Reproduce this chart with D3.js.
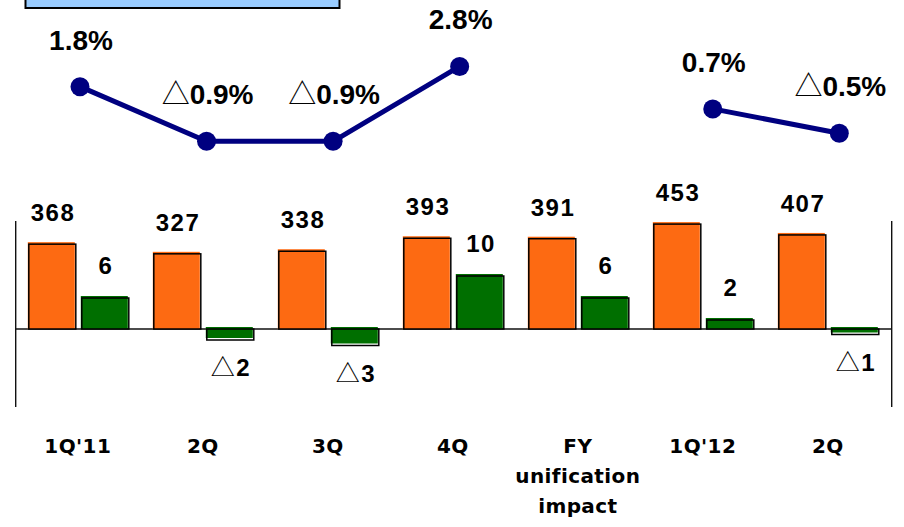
<!DOCTYPE html>
<html>
<head>
<meta charset="utf-8">
<script src="https://cdn.jsdelivr.net/npm/d3@7"></script>
<style>
  html, body { margin: 0; padding: 0; background: #fff; }
  svg { display: block; }
</style>
</head>
<body>
<script>
// Quarterly figures: totals (orange), changes (green) and ratio (navy line)
const categories = ["1Q'11", "2Q'11", "3Q'11", "4Q'11", "FY unification impact", "1Q'12", "2Q'12"];
const tickLabels = [["1Q'11"], ["2Q"], ["3Q"], ["4Q"], ["FY", "unification", "impact"], ["1Q'12"], ["2Q"]];
const totalValues = [368, 327, 338, 393, 391, 453, 407];
const changeValues = [6, -2, -3, 10, 6, 2, -1];
const ratioValues = [1.8, -0.9, -0.9, 2.8, null, 0.7, -0.5];

const W = 904, H = 527;
const ORANGE = "#fd6a12", GREEN = "#006f00", NAVY = "#000080";
const NUM_FONT = "'Liberation Sans', 'Noto Sans CJK JP', sans-serif";

const svg = d3.select("body").append("svg")
  .attr("width", W).attr("height", H);

// header box, running off the top edge
svg.append("rect")
  .attr("x", 25.5).attr("y", -20).attr("width", 314).attr("height", 28)
  .attr("fill", "#99ccff").attr("stroke", "#000").attr("stroke-width", 2);

// ---- scales ----
const x = d3.scaleBand().domain(categories)
  .range([15.3, 890.3]).paddingInner(0.2).paddingOuter(0.1);
const sub = d3.scaleBand().domain(["total", "change"])
  .range([0, x.bandwidth()]).paddingInner(0.113);

const yTotal = d3.scaleLinear().domain([0, 500]).range([329, 329 - 118]);
const yChange = d3.scaleLinear().domain([0, 10]).range([329, 274]);

const xLine = d3.scalePoint().domain(categories).range([80, 839.3]);
const yRatio = d3.scaleLinear().domain([-1, 3]).range([143.3, 62.4]);

// ---- frame ----
const frameLeft = 15.7, frameRight = 891.7;
const frame = svg.append("g").attr("stroke", "#111").attr("stroke-width", 1.4);
frame.append("line").attr("x1", frameLeft).attr("x2", frameLeft).attr("y1", 221).attr("y2", 407);
frame.append("line").attr("x1", frameRight).attr("x2", frameRight).attr("y1", 221).attr("y2", 407);
frame.append("line").attr("x1", frameLeft).attr("x2", frameRight)
  .attr("y1", yTotal(0)).attr("y2", yTotal(0));

// ---- bars: a fill with an outline set slightly down-right ----
function bar(g, x0, w, yv, y0, color) {
  const neg = yv > y0;
  if (!neg) {
    g.append("rect").attr("x", x0).attr("y", yv).attr("width", w).attr("height", y0 - yv)
      .attr("fill", color);
    g.append("rect").attr("x", x0 + 1).attr("y", yv + 2).attr("width", w).attr("height", Math.max(0, y0 - yv - 2))
      .attr("fill", "none").attr("stroke", "#000").attr("stroke-width", 1.5);
  } else {
    g.append("rect").attr("x", x0).attr("y", y0 - 2).attr("width", w).attr("height", yv - y0)
      .attr("fill", color);
    g.append("rect").attr("x", x0 + 1).attr("y", y0).attr("width", w).attr("height", yv - y0)
      .attr("fill", "none").attr("stroke", "#000").attr("stroke-width", 1.5);
  }
}

function label(g, cx, y, v, size, digits, spacing) {
  const s = digits == null ? String(Math.abs(v)) : Math.abs(v).toFixed(digits) + "%";
  const t = g.append("text")
    .attr("x", cx + spacing / 2).attr("y", y)
    .attr("text-anchor", "middle")
    .attr("font-family", NUM_FONT)
    .attr("font-size", size)
    .attr("letter-spacing", spacing)
    .attr("fill", "#000");
  if (v < 0) {
    t.append("tspan").attr("font-weight", 400).attr("font-family", "'Noto Sans CJK JP', sans-serif").text("△");
  }
  t.append("tspan").attr("font-weight", 700).text(s);
}

const bars = svg.append("g");
const labels = svg.append("g");

categories.forEach((c, i) => {
  const bx = x(c);
  // totals
  const tx = bx + sub("total"), tw = sub.bandwidth();
  const ty = yTotal(totalValues[i]);
  bar(bars, tx, tw, ty, yTotal(0), ORANGE);
  label(labels, tx + tw / 2 + 1, ty - 21, totalValues[i], 24, null, 1.5);

  // changes
  const cx = bx + sub("change"), cw = sub.bandwidth();
  const v = changeValues[i];
  const cy = yChange(v);
  bar(bars, cx, cw, cy, yChange(0), GREEN);
  label(labels, cx + cw / 2 + 1, v < 0 ? cy + 36 : cy - 22, v, 24, null, 1.5);
});

// ---- ratio line ----
const pts = categories.map((c, i) => ({ c, v: ratioValues[i] }));
const line = d3.line()
  .defined(d => d.v != null)
  .x(d => xLine(d.c))
  .y(d => yRatio(d.v));

svg.append("path").datum(pts)
  .attr("d", line)
  .attr("fill", "none").attr("stroke", NAVY).attr("stroke-width", 5)
  .attr("stroke-linejoin", "round");

const defined = pts.filter(d => d.v != null);
svg.append("g").selectAll("circle").data(defined).join("circle")
  .attr("cx", d => xLine(d.c)).attr("cy", d => yRatio(d.v)).attr("r", 9.5)
  .attr("fill", NAVY);

defined.forEach(d => {
  label(labels, xLine(d.c) + 1, yRatio(d.v) - 37, d.v, 28, 1, 0);
});

// ---- category axis ----
const axis = d3.axisBottom(x).tickSize(0).tickPadding(0).tickFormat(() => "");
const ax = svg.append("g").attr("transform", "translate(0,453)").call(axis);
ax.select(".domain").remove();
ax.selectAll(".tick text").remove();
ax.selectAll(".tick").each(function (c, i) {
  const t = d3.select(this).append("text")
    .attr("text-anchor", "middle")
    .attr("font-family", "'DejaVu Sans', sans-serif")
    .attr("font-weight", 700)
    .attr("font-size", 20)
    .attr("letter-spacing", 0.4)
    .attr("fill", "#000");
  tickLabels[i].forEach((s, k) => {
    t.append("tspan").attr("x", 0).attr("y", k * 30).text(s);
  });
});
</script>
</body>
</html>
